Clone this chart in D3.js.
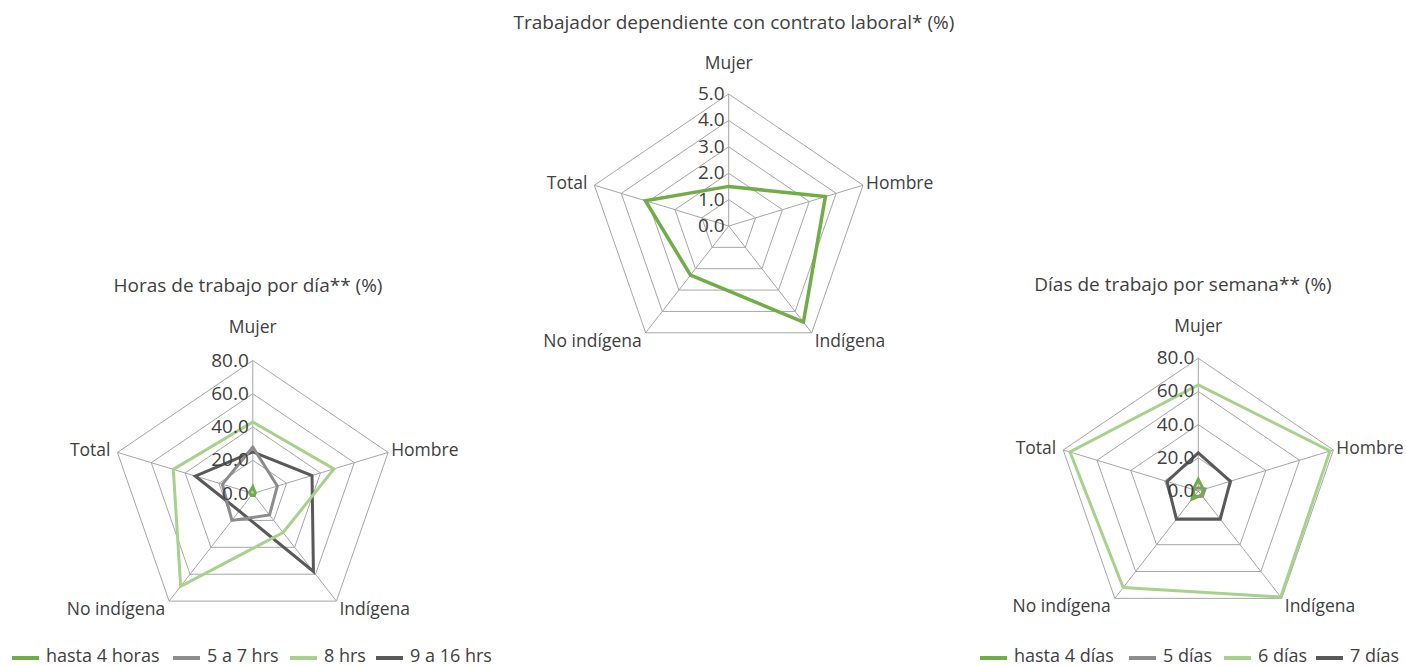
<!DOCTYPE html>
<html>
<head>
<meta charset="utf-8">
<script src="https://cdn.jsdelivr.net/npm/d3@7"></script>
<style>
  body { margin: 0; background: #fff; }
  svg text { font-family: "Open Sans", "Noto Sans", sans-serif; fill: #404040; }
</style>
</head>
<body>
<svg id="chart" width="1406" height="666"></svg>
<script>
// axes shared by the three radars
const axes = ["Mujer", "Hombre", "Indígena", "No indígena", "Total"]

// Trabajador dependiente con contrato laboral* (%)
const contratoTicks = [0, 1, 2, 3, 4, 5]
const contrato = [1.5, 3.6, 4.5, 2.3, 3.1]

// Horas de trabajo por día** (%)
const horasNames = ["hasta 4 horas", "5 a 7 hrs", "8 hrs", "9 a 16 hrs"]
const horasTicks = [0, 20, 40, 60, 80]
const hasta4horas = [4, 1.5, 1.5, 1.5, 2]
const h5a7 = [28, 14.5, 16, 20, 18]
const h8 = [43, 48, 29, 69, 47]
const h9a16 = [25, 35, 58, 13, 34]

// Días de trabajo por semana** (%)
const diasNames = ["hasta 4 días", "5 días", "6 días", "7 días"]
const diasTicks = [0, 20, 40, 60, 80]
const hasta4dias = [7, 3, 3, 6, 3]
const d5 = [2, 4, 4, 4, 3]
const d6 = [64, 78, 79, 72, 76]
const d7 = [23, 19, 21, 21, 18.5]

const colours = ["#70AD47", "#8C8C8C", "#A9D18E", "#595959"]

const svg = d3.select("#chart")

// the reference is a bit wider than tall
const sx = 1.07

function drawRadar(opts){
    const g = svg.append("g")
    const r = d3.scaleLinear().domain([0, d3.max(opts.ticks)]).range([0, opts.radius])
    const angle = i => i * 2 * Math.PI / axes.length
    const pt = (i, v) => [opts.cx + sx * r(v) * Math.sin(angle(i)), opts.cy - r(v) * Math.cos(angle(i))]
    const line = d3.line().curve(d3.curveLinearClosed)

    // rings
    opts.ticks.slice(1).forEach(t => {
        g.append("path")
            .attr("d", line(axes.map((a, i) => pt(i, t))))
            .attr("fill", "none")
            .attr("stroke", "#A6A6A6")
            .attr("stroke-width", 1)
    })
    // spokes
    const maxV = d3.max(opts.ticks)
    axes.forEach((a, i) => {
        const p = pt(i, maxV)
        g.append("line")
            .attr("x1", opts.cx).attr("y1", opts.cy)
            .attr("x2", p[0]).attr("y2", p[1])
            .attr("stroke", "#A6A6A6")
            .attr("stroke-width", 1)
    })

    // series
    opts.series.forEach((s, k) => {
        g.append("path")
            .attr("d", line(s.values.map((v, i) => pt(i, v))))
            .attr("fill", "none")
            .attr("stroke", s.colour)
            .attr("stroke-width", opts.lineWidth)
            .attr("stroke-linejoin", "miter")
    })

    // tick labels
    opts.ticks.forEach(t => {
        g.append("text")
            .attr("x", opts.cx - 4)
            .attr("y", opts.cy - r(t) - 1)
            .attr("text-anchor", "end")
            .attr("dominant-baseline", "central")
            .style("font-size", "19px")
            .text(d3.format(".1f")(t))
    })

    // axis labels
    const place = [
        {dx: 0, dy: -opts.topGap, anchor: "middle"},
        {dx: 3, dy: -3, anchor: "start"},
        {dx: 3, dy: 7, anchor: "start"},
        {dx: -4, dy: 7, anchor: "end"},
        {dx: -7, dy: -3, anchor: "end"}
    ]
    axes.forEach((a, i) => {
        const p = pt(i, maxV)
        g.append("text")
            .attr("x", p[0] + place[i].dx)
            .attr("y", p[1] + place[i].dy)
            .attr("text-anchor", place[i].anchor)
            .attr("dominant-baseline", "central")
            .style("font-size", "17.5px")
            .text(a)
    })

    // title
    g.append("text")
        .attr("x", opts.titleX)
        .attr("y", opts.titleY)
        .attr("text-anchor", "middle")
        .attr("dominant-baseline", "central")
        .style("font-size", "19px")
        .text(opts.title)

    // legend
    if(opts.legend){
        opts.legend.forEach(l => {
            g.append("line")
                .attr("x1", l.x).attr("x2", l.x + 27)
                .attr("y1", 658).attr("y2", 658)
                .attr("stroke", l.colour)
                .attr("stroke-width", 4)
            g.append("text")
                .attr("x", l.x + 34)
                .attr("y", 655)
                .attr("dominant-baseline", "central")
                .style("font-size", "18px")
                .text(l.name)
        })
    }
}

drawRadar({
    cx: 728.7, cy: 226, radius: 132, ticks: contratoTicks, lineWidth: 3.5, topGap: 32,
    title: "Trabajador dependiente con contrato laboral* (%)", titleX: 734, titleY: 22,
    series: [{values: contrato, colour: colours[0]}]
})

const horasSeries = [hasta4horas, h5a7, h8, h9a16]
drawRadar({
    cx: 252.8, cy: 493.5, radius: 133, ticks: horasTicks, lineWidth: 3, topGap: 35,
    title: "Horas de trabajo por día** (%)", titleX: 248, titleY: 285,
    series: horasSeries.map((v, k) => ({values: v, colour: colours[k]})).reverse(),
    legend: [12, 173, 290, 376].map((x, k) => ({x: x, name: horasNames[k], colour: colours[k]}))
})

const diasSeries = [hasta4dias, d5, d6, d7]
drawRadar({
    cx: 1198.3, cy: 491, radius: 132.7, ticks: diasTicks, lineWidth: 3, topGap: 33,
    title: "Días de trabajo por semana** (%)", titleX: 1183, titleY: 284,
    series: diasSeries.map((v, k) => ({values: v, colour: colours[k]})).reverse(),
    legend: [980, 1129, 1224, 1316].map((x, k) => ({x: x, name: diasNames[k], colour: colours[k]}))
})
</script>
</body>
</html>
